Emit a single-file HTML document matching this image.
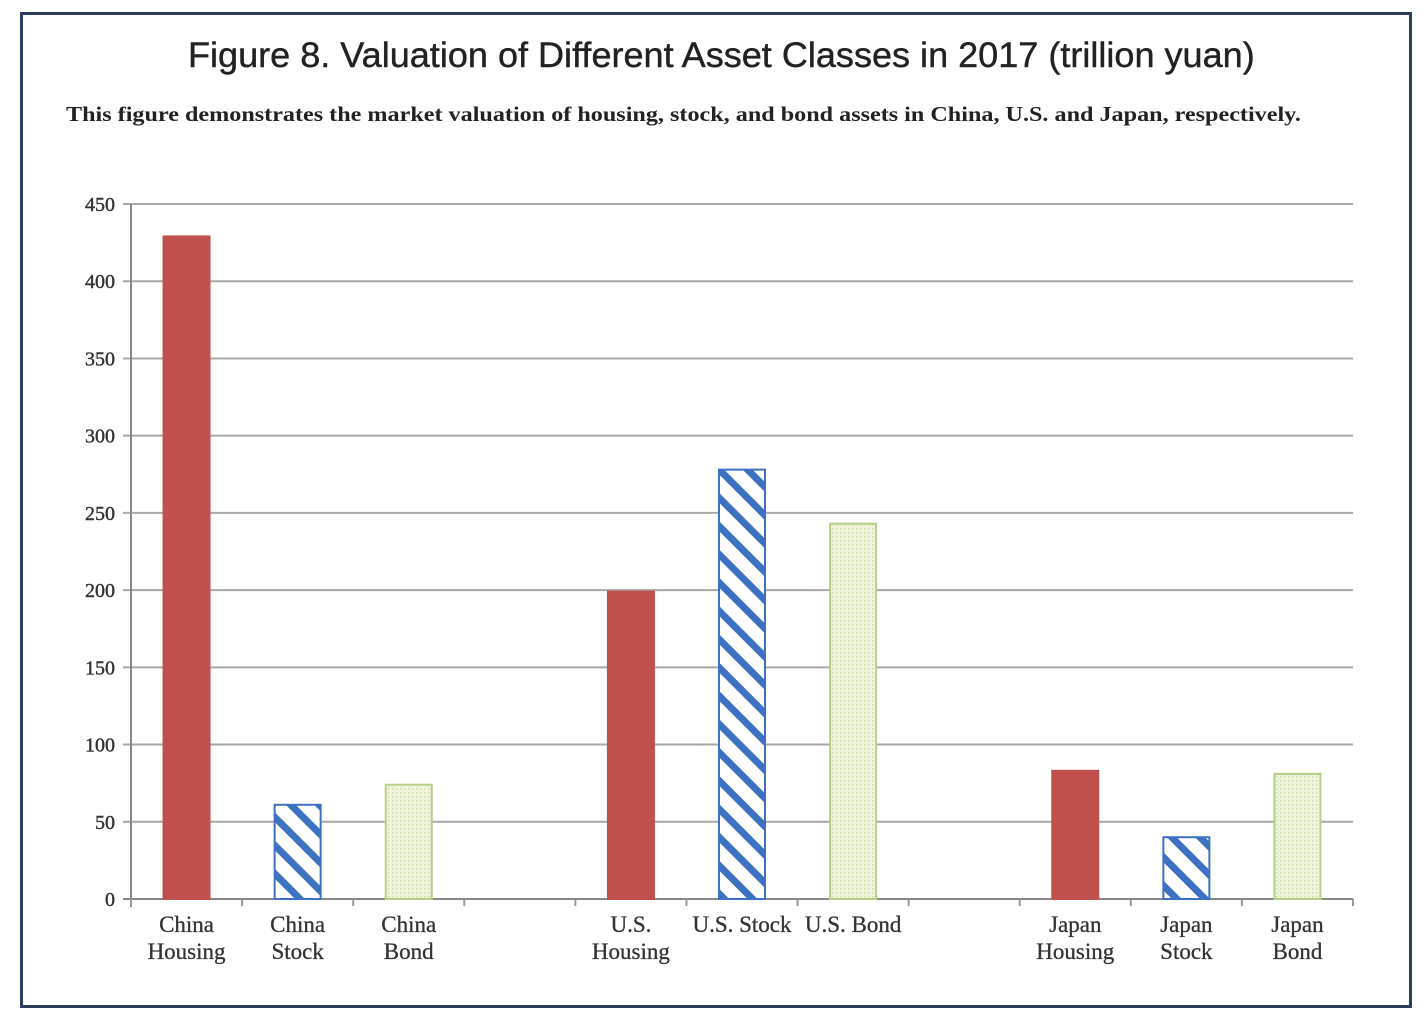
<!DOCTYPE html>
<html><head><meta charset="utf-8"><style>
html,body{margin:0;padding:0;background:#fff;}
body{width:1428px;height:1024px;position:relative;overflow:hidden;font-family:"Liberation Serif",serif;}
#frame{position:absolute;left:20px;top:12px;width:1386px;height:990px;border:3px solid #2b3d5b;box-sizing:content-box;}
#title{position:absolute;left:188px;top:36px;white-space:nowrap;font-family:"Liberation Sans",sans-serif;font-size:35px;color:#222;transform-origin:0 0;transform:scaleX(1.03);-webkit-text-stroke:0.4px #222;}
#sub{position:absolute;left:66px;top:102px;white-space:nowrap;font-size:21px;color:#222;font-weight:bold;transform-origin:0 0;transform:scaleX(1.15);}
</style></head><body>
<div id="frame"></div>
<div id="title">Figure 8. Valuation of Different Asset Classes in 2017 (trillion yuan)</div>
<div id="sub">This figure demonstrates the market valuation of housing, stock, and bond assets in China, U.S. and Japan, respectively.</div>
<svg id="chart" width="1428" height="1024" style="position:absolute;left:0;top:0">
<defs>
<pattern id="stripe" patternUnits="userSpaceOnUse" width="20" height="20" patternTransform="rotate(45)">
<rect width="20" height="20" fill="#fff"/><rect width="20" height="7" fill="#3d72c2"/></pattern>
<pattern id="dots" patternUnits="userSpaceOnUse" width="4" height="4">
<rect width="4" height="4" fill="#eef5dc"/><rect width="1.5" height="1.5" fill="#c8dca4"/></pattern>
</defs>
</svg>
<script>
const categories=["China Housing","China Stock","China Bond","","U.S. Housing","U.S. Stock","U.S. Bond","","Japan Housing","Japan Stock","Japan Bond"];
const labels=[["China","Housing"],["China","Stock"],["China","Bond"],[],["U.S.","Housing"],["U.S. Stock"],["U.S. Bond"],[],["Japan","Housing"],["Japan","Stock"],["Japan","Bond"]];
const values=[429,61,74,null,199,278,243,null,83,40,81];
const types=["housing","stock","bond",null,"housing","stock","bond",null,"housing","stock","bond"];
const yTicks=[0,50,100,150,200,250,300,350,400,450];
const svg=document.getElementById('chart');const NS="http://www.w3.org/2000/svg";
const x0=131,x1=1353,yb=899,yt=204,ymax=450;
const y=v=>yb-(v/ymax)*(yb-yt);
const slot=(x1-x0)/categories.length;
const xc=i=>x0+slot*(i+0.5);
function mk(t,a){const e=document.createElementNS(NS,t);for(const k in a)e.setAttribute(k,a[k]);svg.appendChild(e);return e;}
yTicks.forEach(t=>{
 const l=mk('line',{x1:x0-8,x2:x1,y1:y(t),y2:y(t),stroke:t===0?'#888':'#a8a8a8','stroke-width':2});
 
 
 const tx=mk('text',{x:x0-16,y:y(t)+7,'text-anchor':'end','font-size':20,fill:'#333','font-family':'Liberation Serif, serif','stroke':'#333','stroke-width':0.4});
 tx.textContent=t;
 
 
});
const ax=mk('line',{x1:x0,x2:x0,y1:yt,y2:yb+8,stroke:'#888','stroke-width':2});


for(let i=0;i<=categories.length;i++){
 const tk=mk('line',{x1:x0+slot*i,x2:x0+slot*i,y1:yb,y2:yb+7,stroke:'#999','stroke-width':2});
 
 
}
const bw=46;
values.forEach((v,i)=>{
 if(v!==null){
  const ty=types[i];
  const fill=ty==='housing'?'#c0504d':ty==='stock'?'url(#stripe)':'url(#dots)';
  const st=ty==='housing'?'#c0504d':ty==='stock'?'#3d72c2':'#b5cf87';
  const r=mk('rect',{x:xc(i)-bw/2,y:y(v),width:bw,height:yb-y(v),fill:fill,stroke:st,'stroke-width':2});
  
  
 }
 labels[i].forEach((s,j)=>{
  const t=mk('text',{x:xc(i),y:932+j*27,'text-anchor':'middle','font-size':23,fill:'#333','font-family':'Liberation Serif, serif','stroke':'#333','stroke-width':0.3});
  t.textContent=s;
  
  
 });
});
</script>
</body></html>
